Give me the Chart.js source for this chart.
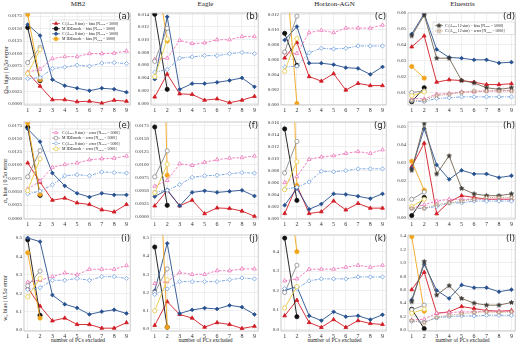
<!DOCTYPE html>
<html><head><meta charset="utf-8">
<script src="https://cdn.jsdelivr.net/npm/chart.js@4.4.1/dist/chart.umd.min.js"></script>
<style>
html,body{margin:0;padding:0;background:#fff;}
#wrap{position:relative;width:520px;height:343px;overflow:hidden;font-family:"Liberation Serif","DejaVu Serif",serif;color:#222;}
#wrap canvas{position:absolute;}
.ttl{position:absolute;white-space:nowrap;transform:translateX(-50%);font-size:7px;line-height:7px;}
.xl{position:absolute;white-space:nowrap;transform:translateX(-50%);font-size:5.5px;line-height:6px;}
.yl{position:absolute;white-space:nowrap;transform:translate(-50%,-50%) rotate(-90deg);font-size:6px;}
.tag{position:absolute;white-space:nowrap;transform:translateX(-100%);font-family:"DejaVu Sans",sans-serif;font-size:8.5px;line-height:9px;}
</style></head><body><div id="wrap"></div>
<script>
/* ---- axes / labels ---- */
const xTicks = [1, 2, 3, 4, 5, 6, 7, 8, 9];
const simNames = ['MB2', 'Eagle', 'Horizon-AGN', 'Eluestris'];
const paramLabels = ['Ωₘ bias  |  0.5σ error', 'σ₈ bias  |  0.5σ error', 'w₀ bias  |  0.5σ error'];
const xTitle = 'number of PCs excluded';
const ticksQ = [0, 0.0025, 0.005, 0.0075, 0.01, 0.0125, 0.015, 0.0175];
const ticks14 = [0, 0.002, 0.004, 0.006, 0.008, 0.010, 0.012, 0.014];
const ticks12 = [0, 0.002, 0.004, 0.006, 0.008, 0.010, 0.012];
const ticks16 = [0, 0.002, 0.004, 0.006, 0.008, 0.010, 0.012, 0.014, 0.016];
const ticks06 = [0.01, 0.02, 0.03, 0.04, 0.05, 0.06];
const ticks05 = [0, 0.01, 0.02, 0.03, 0.04, 0.05];
const ticksW5 = [0, 0.1, 0.2, 0.3, 0.4, 0.5];
const ticksW4 = [0, 0.1, 0.2, 0.3, 0.4];
const ticksW14 = [0, 0.2, 0.4, 0.6, 0.8, 1.0, 1.2, 1.4];

/* ---- (a) MB2, Omega_m ---- */
const a_cBias  = [0.0062, 0.0035, 0.0008, 0.0008, 0.0004, 0.0005, 0.0001, 0.0007, 0.0005];
const a_mBias  = [0.0152, 0.0046];
const a_cBias2 = [0.0158, 0.0136, 0.0048, 0.0036, 0.0031, 0.0026, 0.0031, 0.0029, 0.0023];
const a_mBias2 = [0.0178, 0.0048];
const a_cErr   = [0.0063, 0.0069, 0.0090, 0.0094, 0.0094, 0.0100, 0.0100, 0.0101, 0.0105];
const a_mErr   = [0.0082, 0.0112];
const a_cErr2  = [0.0050, 0.0052, 0.0070, 0.0073, 0.0077, 0.0075, 0.0081, 0.0082, 0.0080];
const a_mErr2  = [0.0060, 0.0108];
/* ---- (b) Eagle, Omega_m ---- */
const b_cBias  = [0.0010, 0.0046, 0.0015, 0.0014, 0.0005, 0.0007, 0.0001, 0.0005, 0.0011];
const b_mBias  = [0.0140, 0.0022];
const b_cBias2 = [0.0038, 0.0136, 0.0022, 0.0031, 0.0031, 0.0033, 0.0036, 0.0040, 0.0026];
const b_mBias2 = [0.0226, 0.0098];
const b_cErr   = [0.0069, 0.0071, 0.0099, 0.0094, 0.0095, 0.0100, 0.0100, 0.0105, 0.0105];
const b_mErr   = [0.0066, 0.0118];
const b_cErr2  = [0.0049, 0.0053, 0.0071, 0.0073, 0.0075, 0.0075, 0.0078, 0.0080, 0.0078];
const b_mErr2  = [0.0042, 0.0101];
/* ---- (c) Horizon-AGN, Omega_m ---- */
const c_cBias  = [0.0062, 0.0083, 0.0037, 0.0031, 0.0041, 0.0019, 0.0028, 0.0025, 0.0025];
const c_mBias  = [0.0095, 0.0052];
const c_cBias2 = [0.0086, 0.0104, 0.0055, 0.0055, 0.0053, 0.0049, 0.0048, 0.0040, 0.0050];
const c_mBias2 = [0.0203, 0.0001];
const c_cErr   = [0.0069, 0.0068, 0.0096, 0.0099, 0.0096, 0.0102, 0.0102, 0.0102, 0.0106];
const c_mErr   = [0.0070, 0.0118];
const c_cErr2  = [0.0050, 0.0051, 0.0069, 0.0075, 0.0074, 0.0075, 0.0078, 0.0078, 0.0078];
const c_mErr2  = [0.0044, 0.0088];
/* ---- (d) Eluestris, Omega_m ---- */
const d_cBias  = [0.0386, 0.0455, 0.0165, 0.0180, 0.0175, 0.0165, 0.0150, 0.0150, 0.0155];
const d_mBias  = [0.0042, 0.0130];
const d_cBias2 = [0.0467, 0.0594, 0.0370, 0.0320, 0.0315, 0.0305, 0.0305, 0.0285, 0.0290];
const d_mBias2 = [0.0263, 0.0190];
const d_cErr   = [0.0063, 0.0060, 0.0090, 0.0094, 0.0104, 0.0104, 0.0110, 0.0110, 0.0114];
const d_mErr   = [0.0100, 0.0110];
const d_cErr2  = [0.0047, 0.0043, 0.0063, 0.0067, 0.0073, 0.0073, 0.0073, 0.0073, 0.0073];
const d_mErr2  = [0.0080, 0.0104];
const d_sBias  = [0.0455, 0.0585, 0.0315, 0.0315, 0.0175, 0.0160, 0.0130, 0.0120, 0.0130];
const d_sErr   = [0.0050, 0.0050, 0.0080, 0.0090, 0.0100, 0.0110, 0.0110, 0.0110, 0.0110];
/* ---- (e) MB2, sigma_8 ---- */
const e_cBias  = [0.0104, 0.0068, 0.0034, 0.0038, 0.0029, 0.0026, 0.0016, 0.0012, 0.0026];
const e_mBias  = [0.0171, 0.0043];
const e_cBias2 = [0.0168, 0.0144, 0.0085, 0.0061, 0.0047, 0.0040, 0.0047, 0.0044, 0.0044];
const e_mBias2 = [0.0179, 0.0045];
const e_cErr   = [0.0055, 0.0070, 0.0096, 0.0101, 0.0104, 0.0110, 0.0112, 0.0113, 0.0117];
const e_mErr   = [0.0078, 0.0127];
const e_cErr2  = [0.0046, 0.0051, 0.0063, 0.0080, 0.0082, 0.0080, 0.0087, 0.0086, 0.0085];
const e_mErr2  = [0.0052, 0.0112];
/* ---- (f) Eagle, sigma_8 ---- */
const f_cBias  = [0.0021, 0.0051, 0.0021, 0.0032, 0.0006, 0.0017, 0.0016, 0.0011, 0.0001];
const f_mBias  = [0.0173, 0.0022];
const f_cBias2 = [0.0039, 0.0052, 0.0021, 0.0047, 0.0050, 0.0047, 0.0049, 0.0051, 0.0040];
const f_mBias2 = [0.1100, 0.0080];
const f_cErr   = [0.0059, 0.0070, 0.0102, 0.0099, 0.0105, 0.0110, 0.0113, 0.0114, 0.0117];
const f_mErr   = [0.0077, 0.0127];
const f_cErr2  = [0.0047, 0.0051, 0.0062, 0.0076, 0.0079, 0.0080, 0.0083, 0.0085, 0.0084];
const f_mErr2  = [0.0046, 0.0101];
/* ---- (g) Horizon-AGN, sigma_8 ---- */
const g_cBias  = [0.0008, 0.0055, 0.0008, 0.0011, 0.0029, 0.0014, 0.0025, 0.0017, 0.0017];
const g_mBias  = [0.0150, 0.0030];
const g_cBias2 = [0.0022, 0.0050, 0.0015, 0.0024, 0.0041, 0.0040, 0.0037, 0.0033, 0.0041];
const g_mBias2 = [0.0680, 0.0055];
const g_cErr   = [0.0060, 0.0070, 0.0099, 0.0103, 0.0105, 0.0109, 0.0112, 0.0109, 0.0115];
const g_mErr   = [0.0076, 0.0129];
const g_cErr2  = [0.0049, 0.0052, 0.0061, 0.0079, 0.0078, 0.0080, 0.0083, 0.0083, 0.0083];
const g_mErr2  = [0.0048, 0.0095];
/* ---- (h) Eluestris, sigma_8 ---- */
const h_cBias  = [0.028, 0.041, 0.002, 0.0085, 0.012, 0.011, 0.010, 0.010, 0.010];
const h_mBias  = [0.001, 0.011];
const h_cBias2 = [0.027, 0.049, 0.029, 0.021, 0.026, 0.024, 0.024, 0.022, 0.023];
const h_mBias2 = [0.031, 0.015];
const h_cErr   = [0.005, 0.007, 0.009, 0.010, 0.010, 0.010, 0.010, 0.010, 0.010];
const h_mErr   = [0.010, 0.014];
const h_cErr2  = [0.005, 0.005, 0.006, 0.008, 0.008, 0.009, 0.009, 0.009, 0.009];
const h_mErr2  = [0.006, 0.010];
const h_sBias  = [0.026, 0.052, 0.024, 0.034, 0.016, 0.013, 0.012, 0.012, 0.013];
const h_sErr   = [0.005, 0.005, 0.007, 0.008, 0.009, 0.010, 0.011, 0.011, 0.011];
/* ---- (i) MB2, w_0 ---- */
const i_cBias  = [0.23, 0.13, 0.05, 0.065, 0.03, 0.03, 0.01, 0.01, 0.04];
const i_mBias  = [0.49, 0.08];
const i_cBias2 = [0.50, 0.48, 0.19, 0.14, 0.12, 0.085, 0.10, 0.11, 0.09];
const i_mBias2 = [0.42, 0.065];
const i_cErr   = [0.26, 0.27, 0.29, 0.31, 0.30, 0.33, 0.33, 0.33, 0.35];
const i_mErr   = [0.24, 0.32];
const i_cErr2  = [0.22, 0.23, 0.27, 0.27, 0.28, 0.27, 0.29, 0.29, 0.28];
const i_mErr2  = [0.18, 0.28];
/* ---- (j) Eagle, w_0 ---- */
const j_cBias  = [0.02, 0.15, 0.08, 0.06, 0.01, 0.035, 0.025, 0.003, 0.015];
const j_mBias  = [0.45, 0.01];
const j_cBias2 = [0.21, 0.47, 0.085, 0.105, 0.115, 0.11, 0.13, 0.12, 0.08];
const j_mBias2 = [1.46, 0.01];
const j_cErr   = [0.25, 0.26, 0.31, 0.30, 0.30, 0.32, 0.32, 0.33, 0.33];
const j_mErr   = [0.20, 0.33];
const j_cErr2  = [0.19, 0.22, 0.26, 0.26, 0.26, 0.26, 0.27, 0.28, 0.275];
const j_mErr2  = [0.10, 0.27];
/* ---- (k) Horizon-AGN, w_0 ---- */
const k_cBias  = [0.07, 0.15, 0.035, 0.01, 0.05, 0.01, 0.045, 0.03, 0.025];
const k_mBias  = [0.47, 0.065];
const k_cBias2 = [0.20, 0.22, 0.07, 0.045, 0.09, 0.065, 0.07, 0.05, 0.075];
const k_mBias2 = [0.91, 0.40];
const k_cErr   = [0.25, 0.26, 0.31, 0.31, 0.31, 0.32, 0.33, 0.32, 0.33];
const k_mErr   = [0.19, 0.33];
const k_cErr2  = [0.21, 0.21, 0.25, 0.26, 0.26, 0.26, 0.27, 0.27, 0.27];
const k_mErr2  = [0.11, 0.22];
/* ---- (l) Eluestris, w_0 ---- */
const l_cBias  = [0.60, 0.86, 0.25, 0.27, 0.35, 0.32, 0.29, 0.28, 0.29];
const l_mBias  = [0.31, 0.02];
const l_cBias2 = [0.45, 0.98, 0.59, 0.47, 0.67, 0.63, 0.63, 0.57, 0.60];
const l_mBias2 = [1.39, 0.28];
const l_cErr   = [0.15, 0.16, 0.25, 0.26, 0.27, 0.27, 0.28, 0.28, 0.28];
const l_mErr   = [0.30, 0.37];
const l_cErr2  = [0.13, 0.12, 0.18, 0.20, 0.21, 0.21, 0.22, 0.22, 0.22];
const l_mErr2  = [0.25, 0.31];
const l_sBias  = [0.42, 1.02, 0.52, 0.66, 0.47, 0.40, 0.37, 0.37, 0.41];
const l_sErr   = [0.14, 0.11, 0.19, 0.22, 0.24, 0.26, 0.27, 0.26, 0.27];

/* ---- legend texts ---- */
const biasLabels = ['C (A_{bkg} 8 sim) − bias [N_{train} = 5000]', 'M IDEmode − bias [N_{train} = 5000]',
                    'C (A_{bkg} 8 sim) − bias [N_{train} = 5000]', 'M IDEmode − bias [N_{train} = 5000]'];
const errLabels  = ['C (A_{bkg} 8 sim) − error [N_{train} = 5000]', 'M IDEmode − error [N_{train} = 5000]',
                    'C (A_{bkg} 8 sim) − error [N_{train} = 5000]', 'M IDEmode − error [N_{train} = 5000]'];
const starLabels = ['C (A_{bkg} 12 sim) − bias [N_{train} = 5000]', 'C (A_{bkg} 12 sim) − error [N_{train} = 5000]'];

/* ---- layout (page px) ---- */
const colL = [24, 151, 281, 408], colR = [132, 260, 388, 517];
const rowT = [11, 120, 233], rowB = [105, 219, 331];
const WY = 19, HX = 10;
const SERIF = '"Liberation Serif", "DejaVu Serif", serif';

function starMarker(fill, stroke, r) {
  const c = document.createElement('canvas');
  const s = Math.ceil(r * 2 + 2);
  c.width = c.height = s;
  const g = c.getContext('2d');
  g.beginPath();
  for (let k = 0; k < 10; k++) {
    const rr = k % 2 ? r * 0.45 : r, ang = -Math.PI / 2 + k * Math.PI / 5;
    g.lineTo(s / 2 + rr * Math.cos(ang), s / 2 + rr * Math.sin(ang));
  }
  g.closePath();
  g.fillStyle = fill; g.fill();
  g.strokeStyle = stroke; g.lineWidth = 0.7; g.stroke();
  return c;
}

const styles = [
  { c: '#d01c24', ps: 'triangle', open: false, dash: [], r: 2.2 },
  { c: '#111111', ps: 'circle',   open: false, dash: [], r: 2.1 },
  { c: '#27508f', ps: 'rectRot',  open: false, dash: [], r: 1.9 },
  { c: '#f2a51a', ps: 'circle',   open: false, dash: [], r: 2.1 },
  { c: '#ee74b8', ps: 'triangle', open: true,  dash: [2.5, 1.5], r: 2.2 },
  { c: '#8a8a8a', ps: 'circle',   open: true,  dash: [], r: 2.1 },
  { c: '#709fe0', ps: 'rectRot',  open: true,  dash: [3, 1.2, 1, 1.2], r: 2.1 },
  { c: '#e8c840', ps: 'circle',   open: true,  dash: [], r: 2.1 },
  { c: '#75654f', ps: starMarker('#3c3a36', '#2e2a26', 2.3), open: false, dash: [], r: 2.3 },
  { c: '#b79068', ps: starMarker('#ffffff', '#a07a55', 2.3), open: true,  dash: [1, 1.2], r: 2.3 }
];

const panels = [
  { tag: '(a)', col: 0, row: 0, y: [-0.00025, 0.0181], ticks: ticksQ,   dec: 4, s: [a_cBias, a_mBias, a_cBias2, a_mBias2, a_cErr, a_mErr, a_cErr2, a_mErr2] },
  { tag: '(b)', col: 1, row: 0, y: [-0.00026, 0.0142], ticks: ticks14,  dec: 3, s: [b_cBias, b_mBias, b_cBias2, b_mBias2, b_cErr, b_mErr, b_cErr2, b_mErr2] },
  { tag: '(c)', col: 2, row: 0, y: [-0.0001, 0.01222], ticks: ticks12,  dec: 3, s: [c_cBias, c_mBias, c_cBias2, c_mBias2, c_cErr, c_mErr, c_cErr2, c_mErr2] },
  { tag: '(d)', col: 3, row: 0, y: [0.0022, 0.0598],   ticks: ticks06,  dec: 2, s: [d_cBias, d_mBias, d_cBias2, d_mBias2, d_cErr, d_mErr, d_cErr2, d_mErr2, d_sBias, d_sErr] },
  { tag: '(e)', col: 0, row: 1, y: [-0.00013, 0.0181], ticks: ticksQ,   dec: 4, s: [e_cBias, e_mBias, e_cBias2, e_mBias2, e_cErr, e_mErr, e_cErr2, e_mErr2] },
  { tag: '(f)', col: 1, row: 1, y: [-0.00043, 0.01826], ticks: ticksQ,  dec: 4, s: [f_cBias, f_mBias, f_cBias2, f_mBias2, f_cErr, f_mErr, f_cErr2, f_mErr2] },
  { tag: '(g)', col: 2, row: 1, y: [-0.00012, 0.01616], ticks: ticks16, dec: 3, s: [g_cBias, g_mBias, g_cBias2, g_mBias2, g_cErr, g_mErr, g_cErr2, g_mErr2] },
  { tag: '(h)', col: 3, row: 1, y: [-0.0009, 0.0527],  ticks: ticks05,  dec: 2, s: [h_cBias, h_mBias, h_cBias2, h_mBias2, h_cErr, h_mErr, h_cErr2, h_mErr2, h_sBias, h_sErr] },
  { tag: '(i)', col: 0, row: 2, y: [-0.0053, 0.516],   ticks: ticksW5,  dec: 1, s: [i_cBias, i_mBias, i_cBias2, i_mBias2, i_cErr, i_mErr, i_cErr2, i_mErr2] },
  { tag: '(j)', col: 1, row: 2, y: [-0.011, 0.516],    ticks: ticksW5,  dec: 1, s: [j_cBias, j_mBias, j_cBias2, j_mBias2, j_cErr, j_mErr, j_cErr2, j_mErr2] },
  { tag: '(k)', col: 2, row: 2, y: [-0.0086, 0.486],   ticks: ticksW4,  dec: 1, s: [k_cBias, k_mBias, k_cBias2, k_mBias2, k_cErr, k_mErr, k_cErr2, k_mErr2] },
  { tag: '(l)', col: 3, row: 2, y: [-0.0146, 1.4146],  ticks: ticksW14, dec: 1, s: [l_cBias, l_mBias, l_cBias2, l_mBias2, l_cErr, l_mErr, l_cErr2, l_mErr2, l_sBias, l_sErr] }
];

const legends = {
  '(a)': { x: 26, y: 7,  w: 80, rowH: 5.1, items: biasLabels.map((t, k) => ({ ds: k, text: t })) },
  '(e)': { x: 26, y: 7,  w: 80, rowH: 5.4, items: errLabels.map((t, k) => ({ ds: k + 4, text: t })) },
  '(d)': { x: 25, y: 9,  w: 82, rowH: 5.3, items: starLabels.map((t, k) => ({ ds: k + 8, text: t })) }
};

// text with _{sub} parts
function drawRich(ctx, str, x, y, size) {
  const parts = str.split(/(_\{[^}]*\})/);
  ctx.textBaseline = 'middle';
  parts.forEach(p => {
    if (!p) return;
    const sub = p.startsWith('_{');
    const t = sub ? p.slice(2, -1) : p;
    ctx.font = (sub ? size * 0.7 : size) + 'px ' + SERIF;
    ctx.fillText(t, x, sub ? y + size * 0.25 : y);
    x += ctx.measureText(t).width;
  });
}

const insideLegend = {
  id: 'insideLegend',
  afterDatasetsDraw(chart, args, o) {
    if (!o || !o.items) return;
    const ctx = chart.ctx, a = chart.chartArea;
    const x0 = a.left + o.x, y0 = a.top + o.y, h = o.items.length * o.rowH + 2;
    ctx.save();
    ctx.fillStyle = 'rgba(255,255,255,0.92)';
    ctx.strokeStyle = '#d0d0d0'; ctx.lineWidth = 0.6;
    ctx.fillRect(x0, y0, o.w, h); ctx.strokeRect(x0, y0, o.w, h);
    o.items.forEach((it, k) => {
      const ds = chart.data.datasets[it.ds];
      const cy = y0 + 1 + o.rowH * (k + 0.5);
      ctx.strokeStyle = ds.borderColor; ctx.lineWidth = 0.7;
      ctx.setLineDash(ds.borderDash || []);
      ctx.beginPath(); ctx.moveTo(x0 + 2, cy); ctx.lineTo(x0 + 10, cy); ctx.stroke();
      ctx.setLineDash([]);
      ctx.fillStyle = ds.pointBackgroundColor; ctx.strokeStyle = ds.pointBorderColor;
      Chart.helpers.drawPoint(ctx, { pointStyle: ds.pointStyle, radius: 1.9, rotation: 0, borderWidth: 0.7 }, x0 + 6, cy);
      ctx.fillStyle = '#222';
      drawRich(ctx, it.text, x0 + 12, cy, 3.9);
    });
    ctx.restore();
  }
};

const frame = {
  id: 'frame',
  afterDraw(chart) {
    const a = chart.chartArea, c = chart.ctx;
    c.save(); c.strokeStyle = '#bdbdbd'; c.lineWidth = 0.8;
    c.strokeRect(a.left, a.top, a.right - a.left, a.bottom - a.top);
    c.restore();
  }
};

const wrap = document.getElementById('wrap');
function addText(cls, txt, left, top) {
  const d = document.createElement('div');
  d.className = cls; d.textContent = txt;
  d.style.left = left + 'px'; d.style.top = top + 'px';
  wrap.appendChild(d);
}

simNames.forEach((n, c) => addText('ttl', n, (colL[c] + colR[c]) / 2, 1));
colL.forEach((l, c) => addText('xl', xTitle, (l + colR[c]) / 2, 337));
[70, 181, 298].forEach((cy, r) => addText('yl', paramLabels[r], 5, cy));

panels.forEach(p => {
  const L = colL[p.col], R = colR[p.col], T = rowT[p.row], B = rowB[p.row];
  const cv = document.createElement('canvas');
  const w = R - L + WY + 3, h = B - T + 3 + HX;
  cv.width = w; cv.height = h;
  cv.style.left = (L - WY) + 'px'; cv.style.top = (T - 3) + 'px';
  cv.style.width = w + 'px'; cv.style.height = h + 'px';
  wrap.appendChild(cv);

  const datasets = p.s.map((vals, k) => {
    const st = styles[k];
    return {
      data: vals.map((v, i) => ({ x: xTicks[i], y: v })),
      borderColor: st.c, borderWidth: 0.9, borderDash: st.dash,
      pointStyle: st.ps, pointRadius: st.r, pointBorderWidth: 0.8,
      pointBackgroundColor: st.open ? '#ffffff' : st.c,
      pointBorderColor: st.c, tension: 0, fill: false,
      order: p.s.length - k
    };
  });

  new Chart(cv, {
    type: 'line',
    data: { datasets },
    plugins: [insideLegend, frame],
    options: {
      responsive: false, animation: false, devicePixelRatio: 1,
      layout: { padding: { top: 3, right: 3, left: 0, bottom: 0 } },
      plugins: { legend: { display: false }, tooltip: { enabled: false }, insideLegend: legends[p.tag] || {} },
      scales: {
        x: {
          type: 'linear', min: 0.7, max: 9.3,
          afterBuildTicks: s => { s.ticks = xTicks.map(v => ({ value: v })); },
          afterFit: s => { s.height = HX; },
          grid: { color: '#e6e6e6', lineWidth: 0.6, drawTicks: false },
          border: { display: false },
          ticks: { font: { family: SERIF, size: 6 }, color: '#333', padding: 2, maxRotation: 0, autoSkip: false, callback: v => String(v) }
        },
        y: {
          type: 'linear', min: p.y[0], max: p.y[1],
          afterBuildTicks: s => { s.ticks = p.ticks.map(v => ({ value: v })); },
          afterFit: s => { s.width = WY; },
          grid: { color: '#e6e6e6', lineWidth: 0.6, drawTicks: false },
          border: { display: false },
          ticks: { font: { family: SERIF, size: 5 }, color: '#333', padding: 2, autoSkip: false, callback: v => v.toFixed(p.dec) }
        }
      }
    }
  });
  addText('tag', p.tag, R - 2, T + 1);
});
</script>
</body></html>
